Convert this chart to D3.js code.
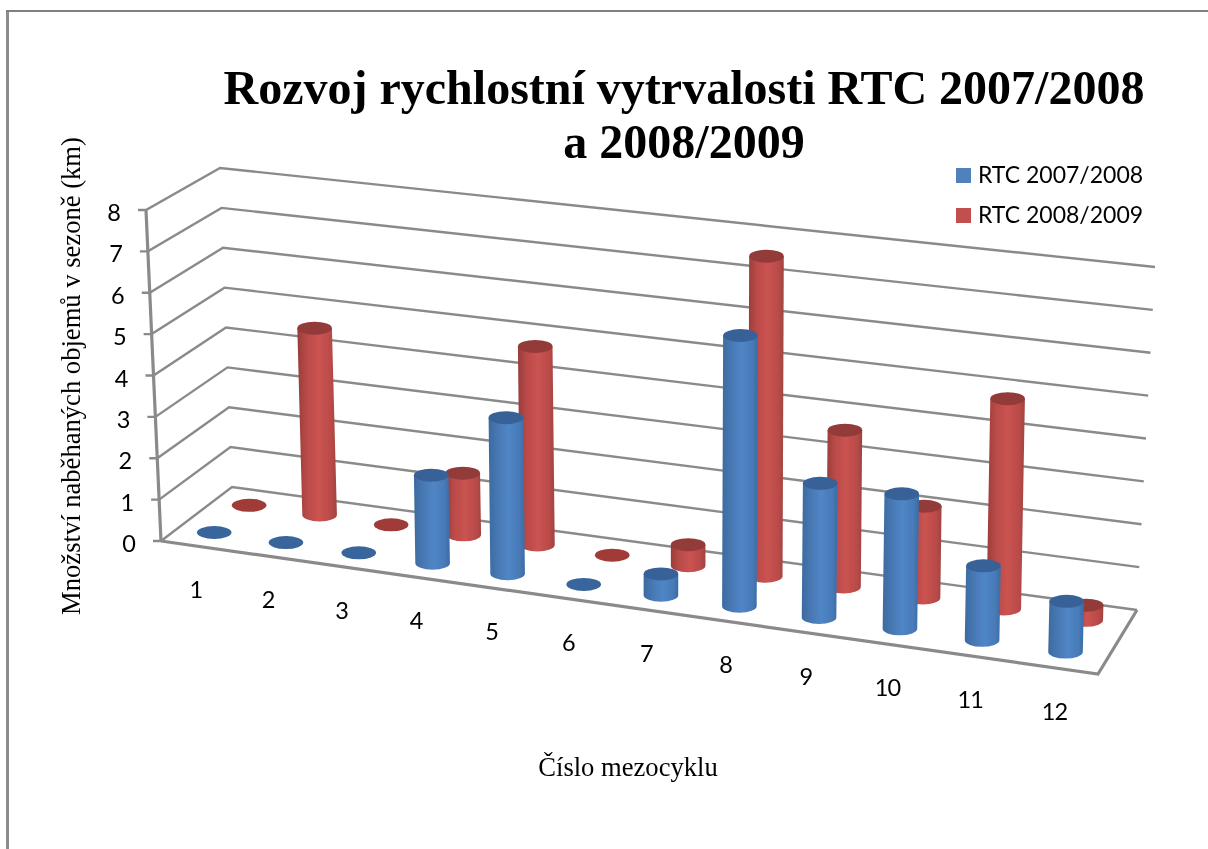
<!DOCTYPE html>
<meta charset="utf-8">
<style>
html, body { margin: 0; background: #fff; }
text { fill: #000; }
.title { font: bold 48px "Liberation Serif"; text-anchor: middle; }
.axis-title { font: 26.6px "Liberation Serif"; text-anchor: middle; }
.tick-label { font: 23.5px Lato; letter-spacing: -1px; }
.legend-label { font: 23px Lato; }
.grid { fill: none; stroke: #8a8a8a; stroke-width: 2.4; }
.frame { fill: none; stroke: #8a8a8a; stroke-width: 3.2; }
</style>
<script src="https://d3js.org/d3.v7.min.js"></script>
<svg id="chart" width="1208" height="849"></svg>
<script>

var categories = ["1", "2", "3", "4", "5", "6", "7", "8", "9", "10", "11", "12"];
var rtc0708 = [0, 0, 0, 2.1, 3.7, 0, 0.5, 6.3, 3.1, 3.1, 1.7, 1.15];
var rtc0809 = [0, 4.6, 0, 1.5, 4.8, 0, 0.5, 7.6, 3.7, 2.15, 4.9, 0.35];
var seriesNames = ["RTC 2007/2008", "RTC 2008/2009"];
var yTicks = [0, 1, 2, 3, 4, 5, 6, 7, 8];

var svg = d3.select("svg#chart");

// corners of the 3d box on screen
var box = {
  frontLeftFloor: [161, 541], frontLeftTop: [146, 210],
  backLeftFloor: [232, 487], backLeftTop: [220, 168],
  frontRightFloor: [1098, 674], frontRightTop: [1120, 316],
  backRightFloor: [1137, 610], backRightTop: [1155, 267]
};

var xBand = d3.scaleBand().domain(categories).range([0, 1]);
var yValue = d3.scaleLinear().domain([0, 8]).range([0, 1]);
var zSeries = d3.scaleOrdinal().domain(seriesNames).range([0.25, 0.75]);
// columns lean less than the walls do (px per unit)
var lean = d3.scaleLinear().domain([0, 1]).range([-1.4, 1.1]);

function lerp(a, b, t) {
  return [a[0] + (b[0] - a[0]) * t, a[1] + (b[1] - a[1]) * t];
}

// the columns get wider apart toward the viewer
function warp(t) {
  return t / (1.095 - 0.095 * t);
}

function project(u, value, w) {
  var v = yValue(value), s = warp(u);
  var front = lerp(lerp(box.frontLeftFloor, box.frontRightFloor, s), lerp(box.frontLeftTop, box.frontRightTop, s), v);
  var back = lerp(lerp(box.backLeftFloor, box.backRightFloor, s), lerp(box.backLeftTop, box.backRightTop, s), v);
  return lerp(front, back, w);
}

function bandMiddle(c) {
  return xBand(c) + xBand.bandwidth() / 2;
}

var line = d3.line();

// gradients
var defs = svg.append("defs");
function bodyGradient(id, stops) {
  var g = defs.append("linearGradient").attr("id", id);
  stops.forEach(function(s) {
    g.append("stop").attr("offset", s[0]).attr("stop-color", s[1]);
  });
}
bodyGradient("blueBody", [[0, "#3c6a9f"], [0.25, "#4778b3"], [0.55, "#5086c6"], [0.85, "#477ab7"], [1, "#3b6ca5"]]);
bodyGradient("redBody", [[0, "#983c3b"], [0.25, "#bb4b49"], [0.55, "#ca5351"], [0.85, "#b94b49"], [1, "#a04240"]]);
defs.append("filter").attr("id", "soft")
  .append("feGaussianBlur").attr("stdDeviation", 0.6);
defs.append("filter").attr("id", "softText")
  .append("feGaussianBlur").attr("stdDeviation", 0.35);

// outer border
svg.append("path").attr("fill", "none").attr("stroke", "#8c8c8c").attr("stroke-width", 3)
  .attr("d", "M7.5,849V11");
svg.append("path").attr("fill", "none").attr("stroke", "#808080").attr("stroke-width", 2)
  .attr("d", "M6,11H1208");

var chart = svg.append("g").attr("filter", "url(#soft)");

// walls
chart.append("g").selectAll("path")
  .data(yTicks)
  .enter().append("path")
    .attr("class", "grid")
    .attr("d", function(d) {
      var start = project(0, d, 0);
      return line([[start[0] - 8, start[1]], start, project(0, d, 1), project(1, d, 1)]);
    });

// floor and upright axis
chart.append("path").attr("class", "frame")
  .attr("d", line([project(0, 0, 0), project(1, 0, 0), project(1, 0, 1)]));
chart.append("path").attr("class", "frame")
  .attr("d", line([project(0, 0, 0), project(0, 8, 0)]));

// columns, back series first
var radius = 17.3, ry = 6.5;
function drawSeries(values, name, gradient, topColor, flatColor) {
  var g = chart.append("g");
  var rows = categories.map(function(c, i) {
    var u = bandMiddle(c), w = zSeries(name);
    var base = project(u, 0, w);
    var top = [base[0] + lean(u) * values[i], project(u, values[i], w)[1]];
    return { value: values[i], base: base, top: top };
  });

  g.selectAll("path")
    .data(rows.filter(function(d) { return d.value > 0; }))
    .enter().append("path")
      .attr("fill", "url(#" + gradient + ")")
      .attr("d", function(d) {
        return "M" + (d.top[0] - radius) + "," + d.top[1] +
          "L" + (d.base[0] - radius) + "," + d.base[1] +
          "A" + radius + "," + ry + " 0 0 0 " + (d.base[0] + radius) + "," + d.base[1] +
          "L" + (d.top[0] + radius) + "," + d.top[1] + "Z";
      });

  g.selectAll("ellipse")
    .data(rows)
    .enter().append("ellipse")
      .attr("cx", function(d) { return d.top[0]; })
      .attr("cy", function(d) { return d.top[1]; })
      .attr("rx", radius)
      .attr("ry", ry)
      .attr("fill", function(d) { return d.value > 0 ? topColor : flatColor; });
}
drawSeries(rtc0809, seriesNames[1], "redBody", "#933b39", "#a13a38");
drawSeries(rtc0708, seriesNames[0], "blueBody", "#376297", "#37659b");

// labels
var labels = svg.append("g").attr("filter", "url(#softText)");

labels.append("g").selectAll("text")
  .data(yTicks)
  .enter().append("text")
    .attr("class", "tick-label")
    .attr("text-anchor", "end")
    .attr("x", function(d) { return project(0, d, 0)[0] - 26; })
    .attr("y", function(d) { return project(0, d, 0)[1] + 11; })
    .text(function(d) { return d; });

labels.append("g").selectAll("text")
  .data(categories)
  .enter().append("text")
    .attr("class", "tick-label")
    .attr("text-anchor", "middle")
    .attr("x", function(d) { return project(bandMiddle(d), 0, 0)[0] - 1; })
    .attr("y", function(d) { return project(bandMiddle(d), 0, 0)[1] + 52; })
    .text(function(d) { return d; });

var title = labels.append("text").attr("class", "title");
title.append("tspan").attr("x", 684).attr("y", 104).text("Rozvoj rychlostní vytrvalosti RTC 2007/2008");
title.append("tspan").attr("x", 684).attr("y", 158).text("a 2008/2009");

labels.append("text").attr("class", "axis-title")
  .attr("transform", "translate(80,376) rotate(-90)")
  .text("Množství naběhaných objemů v sezoně (km)");

labels.append("text").attr("class", "axis-title")
  .attr("x", 628).attr("y", 776)
  .text("Číslo mezocyklu");

// legend
var legendColor = d3.scaleOrdinal().domain(seriesNames).range(["#4f81bd", "#c0504d"]);
var legendY = d3.scalePoint().domain(seriesNames).range([168, 208]);
var legend = labels.append("g").selectAll("g")
  .data(seriesNames)
  .enter().append("g")
    .attr("transform", function(d) { return "translate(956," + legendY(d) + ")"; });
legend.append("rect").attr("width", 15).attr("height", 15)
  .attr("fill", function(d) { return legendColor(d); });
legend.append("text").attr("class", "legend-label")
  .attr("x", 22).attr("y", 15)
  .text(function(d) { return d; });

</script>
